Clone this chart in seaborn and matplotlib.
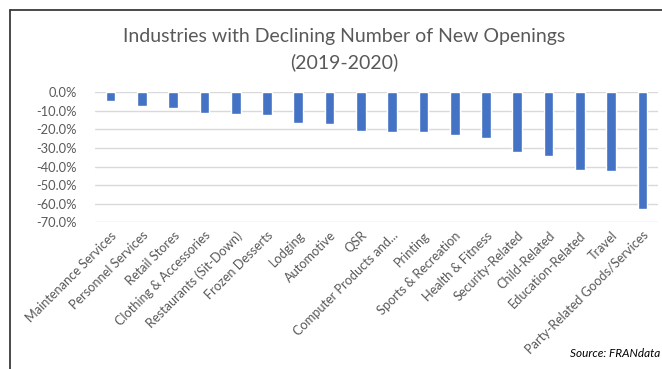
import matplotlib
matplotlib.use("Agg")
import matplotlib.pyplot as plt
from matplotlib.ticker import FuncFormatter
from matplotlib.lines import Line2D
import seaborn as sns
import pandas as pd

# Change in new franchise openings, 2019 -> 2020 (percent)
industries = [
    "Maintenance Services", "Personnel Services", "Retail Stores",
    "Clothing & Accessories", "Restaurants (Sit-Down)", "Frozen Desserts",
    "Lodging", "Automotive", "QSR", "Computer Products and...", "Printing",
    "Sports & Recreation", "Health & Fitness", "Security-Related",
    "Child-Related", "Education-Related", "Travel",
    "Party-Related Goods/Services",
]
change_pct = [
    -4.8, -7.4, -8.6, -11.1, -11.8, -12.4, -16.7, -17.2, -20.8,
    -21.5, -21.5, -22.8, -24.7, -32.1, -34.1, -41.9, -42.5, -62.9,
]
y_ticks = [0, -10, -20, -30, -40, -50, -60, -70]

df = pd.DataFrame({"industry": industries, "change": change_pct})

sns.set_style("white")
plt.rcParams["font.family"] = ["Lato", "DejaVu Sans"]

TEXT = "#595959"
BAR = "#4472C4"
GRID = "#D9D9D9"

fig = plt.figure(figsize=(6.62, 3.69), dpi=100)
ax = fig.add_axes([0.1435, 0.3976, 0.8505, 0.3524])

sns.barplot(data=df, x="industry", y="change", color=BAR, width=0.31,
            saturation=1, ax=ax, zorder=3)

ax.set_ylim(-70, 0)
ax.set_xlim(-0.5, len(industries) - 0.5)
ax.set_yticks(y_ticks)
ax.yaxis.set_major_formatter(
    FuncFormatter(lambda v, _: "0.0%" if round(v, 6) == 0 else f"-{abs(v):.1f}%"))
ax.grid(axis="y", color=GRID, linewidth=1, zorder=0)
ax.grid(axis="x", visible=False)
for s in ax.spines.values():
    s.set_visible(False)

ax.set_xlabel("")
ax.set_ylabel("")
ax.tick_params(axis="y", length=0, pad=13, labelsize=9.3, labelcolor=TEXT)
ax.tick_params(axis="x", length=0, pad=5, labelsize=9.2, labelcolor=TEXT)
ax.set_xticks(range(len(industries)))
ax.set_xticklabels(industries, rotation=45, ha="right", rotation_mode="anchor")

fig.text(0.52, 0.900, "Industries with Declining Number of New Openings",
         ha="center", va="center", fontsize=14, color=TEXT)
fig.text(0.52, 0.832, "(2019-2020)", ha="center", va="center",
         fontsize=14, color=TEXT)
fig.text(0.997, 0.043, "Source: FRANdata", ha="right", va="center",
         fontsize=8.5, style="italic", color="#000000")

# Frame lines along the top and left edge
fig.add_artist(Line2D([10 / 662, 1.0], [1 - 9.5 / 369] * 2,
                      transform=fig.transFigure, color="#3a3a3a", linewidth=1.3))
fig.add_artist(Line2D([10 / 662] * 2, [1 - 9.5 / 369, 0.0],
                      transform=fig.transFigure, color="#3a3a3a", linewidth=1.3))

fig.savefig("out.png", dpi=100)
